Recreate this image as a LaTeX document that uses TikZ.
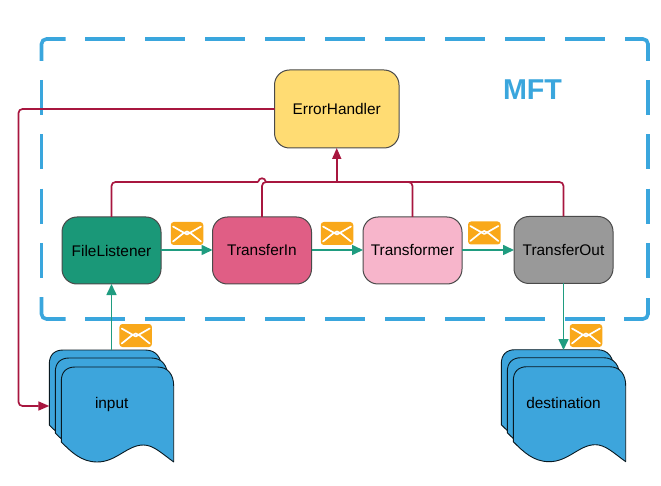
\documentclass[tikz,border=0pt]{standalone}
\usepackage{fontspec}
\setmainfont{Liberation Sans}
\usetikzlibrary{arrows.meta}
\definecolor{framebl}{HTML}{3AA6DD}
\definecolor{docbl}{HTML}{3DA5DC}
\definecolor{errred}{HTML}{A8163F}
\definecolor{msgteal}{HTML}{1F9C80}
\definecolor{envor}{HTML}{F9A81A}
\definecolor{edgegr}{HTML}{4A4A4A}
\tikzset{
  frameline/.style={draw=framebl,line width=3.6pt,line cap=butt},
  framehoriz/.style={frameline,dash pattern=on 40pt off 20pt},
  framevert/.style={frameline,dash pattern=on 35pt off 19.33pt},
  procbox/.style={draw=edgegr,line width=1pt,rounded corners=15pt,minimum width=99pt,minimum height=67pt,inner sep=0pt,outer sep=0pt,font=\fontsize{15.4pt}{18pt}\selectfont,text=black},
  errline/.style={draw=errred,line width=1.7pt,rounded corners=4pt},
  errarrow/.style={errline,-{Triangle[length=11pt,width=9pt]}},
  msgarrow/.style={draw=msgteal,line width=1.6pt,-{Triangle[length=11pt,width=10pt]}},
  docshape/.style={fill=docbl,draw=black!85!docbl,line width=0.9pt,line join=round},
  docbound/.style={minimum width=124.4pt,minimum height=112pt,inner sep=0pt,outer sep=0pt},
  doclabel/.style={font=\fontsize{15.4pt}{18pt}\selectfont,text=black,inner sep=0pt,anchor=base},
  envbox/.style={fill=envor,rounded corners=3pt,minimum width=32.5pt,minimum height=23pt,inner sep=0pt,outer sep=0pt},
  envglyph/.style={draw=white,line width=1.7pt,line join=round,line cap=round}
}
\newcommand{\docsheet}[2]{%
  \path[docshape,shift={(#1,#2)}] (0,75) -- (0,14) .. controls (0,5) and (5,0) .. (14,0) -- (96,0)
    .. controls (107,0) and (112.4,8) .. (112.4,19) -- (112.4,95)
    .. controls (100,86) and (92,78) .. (82,78)
    .. controls (66,78) and (55,95) .. (36,95)
    .. controls (20,95) and (10,85) .. (0,75) -- cycle;}
\newcommand{\docstack}[2]{\docsheet{#1-12}{#2-17}\docsheet{#1-6}{#2-9}\docsheet{#1}{#2}}
\newcommand{\envmark}[3]{%
  \node[envbox] (#1) at (#2,#3) {};
  \begin{scope}[shift={(#1.center)}]
    \path[envglyph] (-14,-7) -- (0,1) -- (14,-7);
    \path[envglyph] (-14,8) -- (-4,0) -- (0,-2) -- (4,0) -- (14,8);
  \end{scope}}
\begin{document}
\begin{tikzpicture}[x=1pt,y=-1pt]
\useasboundingbox (0,0) rectangle (661,486);
% dashed MFT frame
\path[frameline,rounded corners=5pt] (65.7,39) -- (41.5,39) -- (41.5,61);
\path[frameline,rounded corners=5pt] (625,39) -- (648,39) -- (648,61);
\path[frameline,rounded corners=5pt] (41.5,297) -- (41.5,319) -- (65.7,319);
\path[frameline,rounded corners=5pt] (648,298) -- (648,319) -- (624,319);
\path[framehoriz] (85,39) -- (605,39);
\path[framehoriz] (85,319) -- (605,319);
\path[framevert] (41.5,80) -- (41.5,278);
\path[framevert] (648,80) -- (648,278);
\node[font=\bfseries\fontsize{28.7pt}{32pt}\selectfont,text=framebl,inner sep=0pt] (mft) at (532.5,90) {MFT};
% documents
\docstack{61.3}{367}
\docstack{513.3}{366.7}
\node[docbound] (input) at (111.5,406) {};
\node[docbound] (destination) at (563.8,406) {};
\node[doclabel] (inputlabel) at (111.7,408.5) {input};
\node[doclabel] (destinationlabel) at (563.5,408.5) {destination};
% process boxes
\node[procbox,minimum width=124.5pt,minimum height=78pt,fill={rgb,255:red,255;green,220;blue,115}] (errorhandler) at (336.75,109) {ErrorHandler};
\node[procbox,fill={rgb,255:red,26;green,152;blue,120}] (filelistener) at (111.5,250.5) {FileListener};
\node[procbox,fill={rgb,255:red,224;green,94;blue,133}] (transferin) at (262,250.5) {TransferIn};
\node[procbox,fill={rgb,255:red,247;green,181;blue,203}] (transformer) at (412.5,250.5) {Transformer};
\node[procbox,fill={rgb,255:red,153;green,153;blue,153}] (transferout) at (563.5,250) {TransferOut};
% error bus
\coordinate (busjoin) at (336.75,182);
\coordinate (hopleft) at (258,182);
\coordinate (hopright) at (266,182);
\coordinate (returnleft) at (18.5,250);
\draw[errline] (filelistener.north) |- (hopleft);
\draw[errline,rounded corners=0pt] (hopleft) .. controls (259,177) and (265,177) .. (hopright) -- (busjoin);
\draw[errline] (transferin.north) |- (busjoin);
\draw[errline] (transformer.north) |- (busjoin);
\draw[errline] (transferout.north) |- (busjoin);
\draw[errarrow] (busjoin) -- (errorhandler.south);
\draw[errarrow] (errorhandler.west) -| (returnleft) |- (input.west);
% message flow
\draw[msgarrow] (input.north) -- (filelistener.south);
\draw[msgarrow] (filelistener.east |- 0,250) -- (transferin.west |- 0,250);
\draw[msgarrow] (transferin.east |- 0,250) -- (transformer.west |- 0,250);
\draw[msgarrow] (transformer.east |- 0,250) -- (transferout.west |- 0,250);
\draw[msgarrow] (transferout.south) -- (transferout.south |- destination.north);
% envelopes
\envmark{envinput}{135.7}{335.5}
\envmark{envone}{187}{233.5}
\envmark{envtwo}{337}{233.5}
\envmark{envthree}{484.3}{233}
\envmark{envdest}{586}{335.5}
\end{tikzpicture}
\end{document}
